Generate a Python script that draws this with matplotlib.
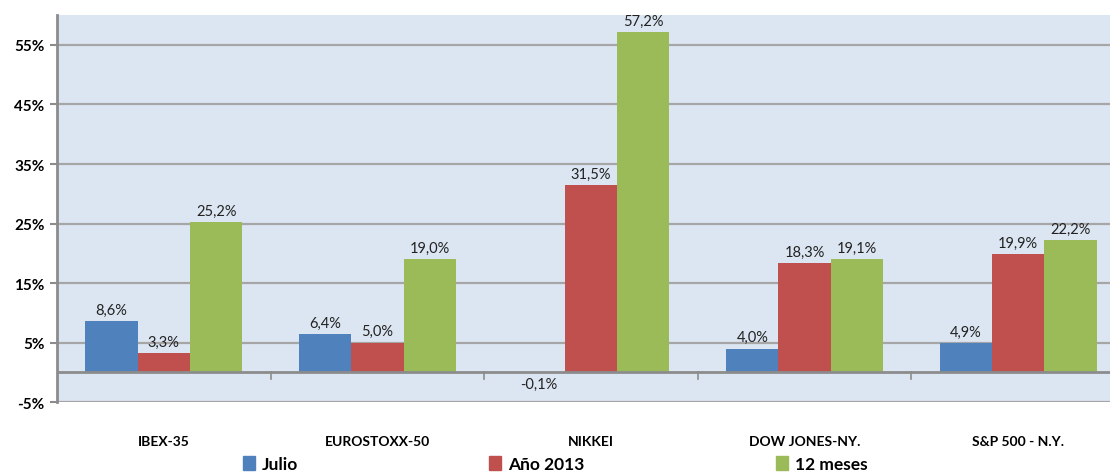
import numpy as np
import matplotlib
matplotlib.use("Agg")
import matplotlib.pyplot as plt
from matplotlib.patches import Patch

indices = ["IBEX-35", "EUROSTOXX-50", "NIKKEI", "DOW JONES-NY.", "S&P 500 - N.Y."]
series = ["Julio", "Año 2013", "12 meses"]
julio = [8.6, 6.4, -0.1, 4.0, 4.9]
anio = [3.3, 5.0, 31.5, 18.3, 19.9]
doce = [25.2, 19.0, 57.2, 19.1, 22.2]
yticks = [-5, 5, 15, 25, 35, 45, 55]

cols = ["#4F81BD", "#C0504D", "#9BBB59"]

plt.rcParams["font.family"] = ["Lato", "DejaVu Sans"]

fig = plt.figure(figsize=(11.1, 4.77), dpi=100)
ax = fig.add_axes([0.0514, 0.155, 0.9486, 0.811])
ax.set_facecolor("#DCE6F2")

x = np.arange(len(indices))
w = 0.245
for k, vals in enumerate([julio, anio, doce]):
    bars = ax.bar(x + (k - 1) * w, vals, w, color=cols[k], zorder=3)
    labs = [("%.1f%%" % v).replace(".", ",") for v in vals]
    ax.bar_label(bars, labels=labs, padding=3, fontsize=10.5, color="#222222")

ax.set_xlim(-0.5, 4.43)
ax.set_ylim(-5, 60)
ax.set_yticks(yticks)
ax.set_yticklabels(["%d%%" % t for t in yticks], fontweight="bold", fontsize=11)
ax.grid(axis="y", color="#A6A6A6", linewidth=1.6, zorder=0)
ax.axhline(0, color="#8C8C8C", linewidth=2, zorder=4)
ax.tick_params(axis="y", length=5, width=1.5, color="#8C8C8C", pad=4)

ax.set_xticks(x)
ax.set_xticklabels(indices, fontweight="bold", fontsize=10)
ax.tick_params(axis="x", length=0, pad=24)

# small separators between categories on the zero line
for b in x[:-1] + 0.5:
    ax.plot([b, b], [0, -1.2], color="#8C8C8C", linewidth=1.2, zorder=4,
            clip_on=False)

for s in ["top", "right", "bottom"]:
    ax.spines[s].set_visible(False)
ax.spines["left"].set_color("#8C8C8C")
ax.spines["left"].set_linewidth(2)

handles = [Patch(color=c) for c in cols]
fig.legend(handles, series, loc="center", bbox_to_anchor=(0.5, 0.025), ncol=3,
           frameon=False, prop={"weight": "bold", "size": 12.5},
           columnspacing=11, handlelength=0.7, handleheight=0.9,
           handletextpad=0.4)

fig.savefig("out.png", dpi=100)
